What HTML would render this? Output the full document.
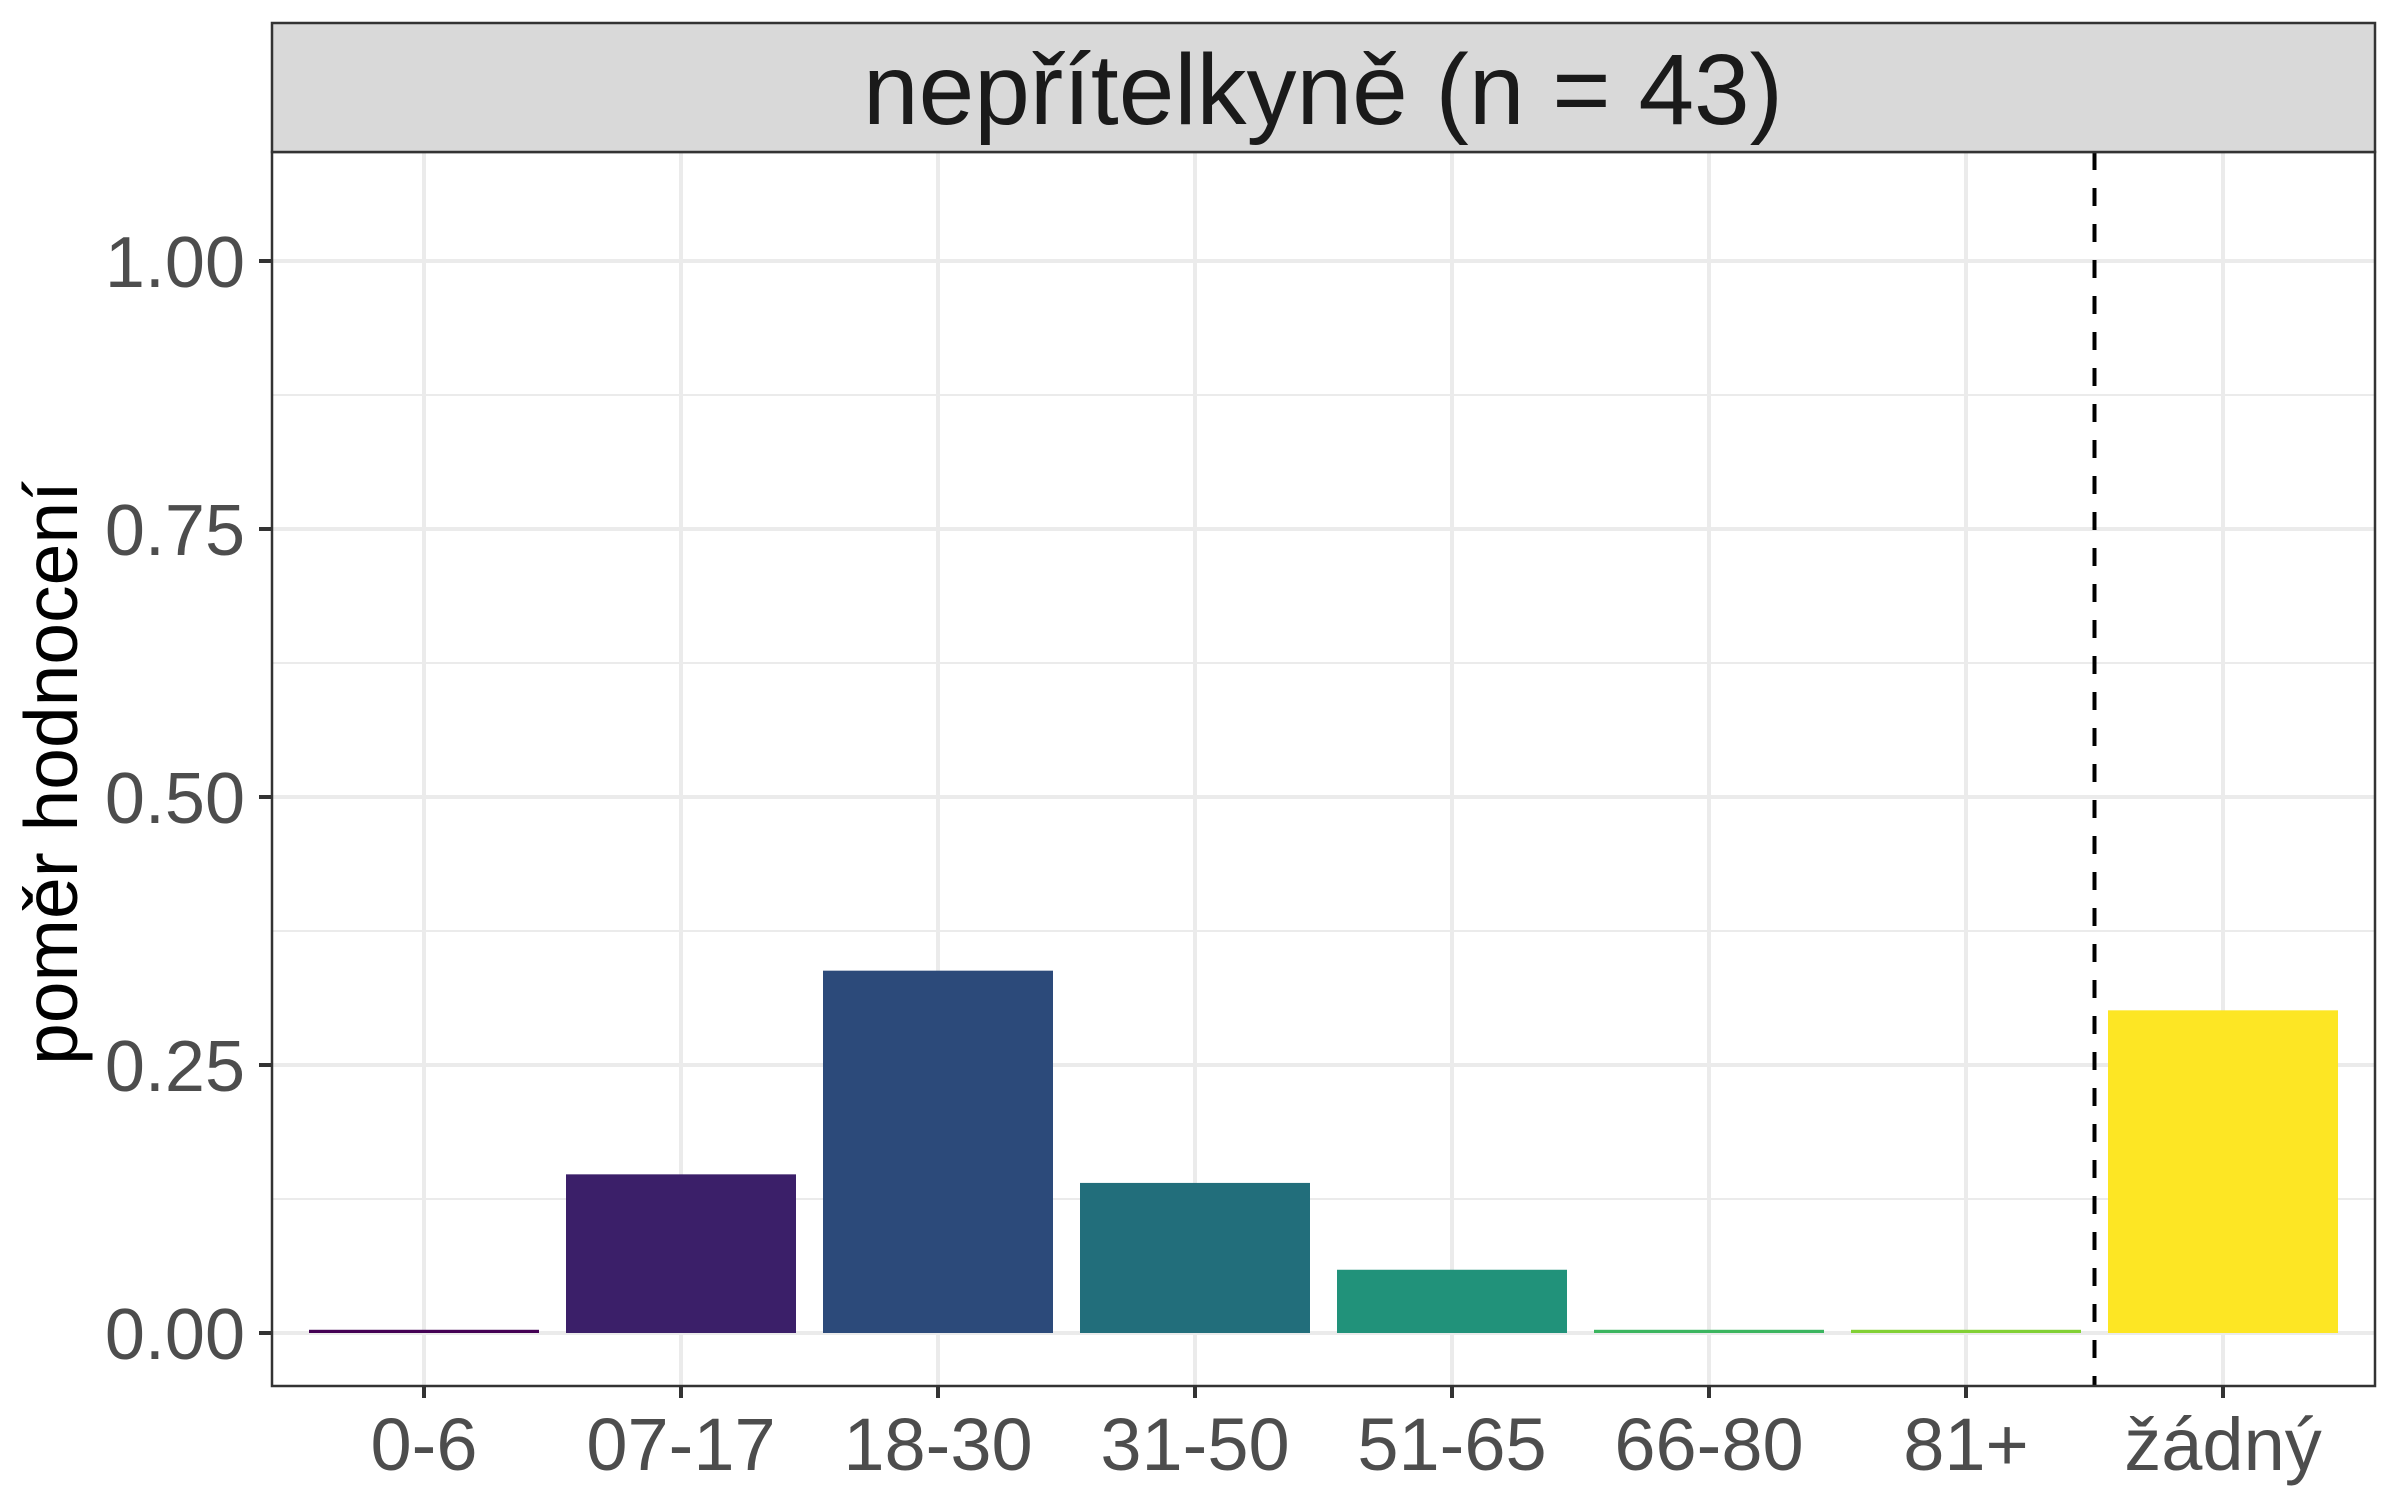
<!DOCTYPE html>
<html><head><meta charset="utf-8"><style>
html,body{margin:0;padding:0;background:#fff;}
svg{display:block;font-family:"Liberation Sans",sans-serif;}
</style></head><body>
<svg id="chart" width="2400" height="1500" viewBox="0 0 2400 1500" xmlns="http://www.w3.org/2000/svg">
<rect x="0" y="0" width="2400" height="1500" fill="#fff"/>
<g id="grid"></g>
<g id="bars"></g>
<g id="axes"></g>
<rect x="272" y="23" width="2103" height="129" fill="#d9d9d9" stroke="#333" stroke-width="2.5"/>
<text x="1323" y="124" font-size="100" fill="#1a1a1a" text-anchor="middle">nepřítelkyně (n = 43)</text>
<text transform="translate(77,773) rotate(-90)" font-size="75" fill="#000" text-anchor="middle">poměr hodnocení</text>
</svg>
<script>
const categories = ["0-6","07-17","18-30","31-50","51-65","66-80","81+","žádný"];
const values = [0.003,0.148,0.338,0.140,0.059,0.003,0.003,0.301];
const colors = ["#440154","#3b1f69","#2c4a7a","#226e7b","#21927a","#3bb55f","#82d035","#fde624"];
const yTicks = [0,0.25,0.5,0.75,1.0];
const yTickLabels = ["0.00","0.25","0.50","0.75","1.00"];
const yMinor = [0.125,0.375,0.625,0.875];
const dividerPos = 6.5;

const NS="http://www.w3.org/2000/svg";
const L=272,R=2375,T=152,B=1386;
const y0=1333, yUnit=1072;
const x0=424, xStep=257, barW=230;
const yS=v=>y0-v*yUnit;
const xS=i=>x0+i*xStep;
function mk(tag,attrs,parent){const e=document.createElementNS(NS,tag);for(const k in attrs)e.setAttribute(k,attrs[k]);parent.appendChild(e);return e;}
const grid=document.getElementById('grid'),bars=document.getElementById('bars'),axes=document.getElementById('axes');
mk('rect',{x:L,y:T,width:R-L,height:B-T,fill:'#fff'},grid);
yMinor.forEach(v=>{const l=mk('line',{x1:L,x2:R,y1:yS(v),y2:yS(v),stroke:'#ebebeb','stroke-width':2},grid);

});
yTicks.forEach(v=>{const l=mk('line',{x1:L,x2:R,y1:yS(v),y2:yS(v),stroke:'#ebebeb','stroke-width':4},grid);

});
categories.forEach((c,i)=>{const l=mk('line',{x1:xS(i),x2:xS(i),y1:T,y2:B,stroke:'#ebebeb','stroke-width':4},grid);

});
categories.forEach((c,i)=>{
 const h=values[i]*yUnit;
 const r=mk('rect',{x:xS(i)-barW/2,y:yS(values[i]),width:barW,height:h,fill:colors[i]},bars);
 
 
 const t=mk('line',{x1:xS(i),x2:xS(i),y1:B,y2:B+12,stroke:'#333','stroke-width':4},axes);
 
 
 const lb=mk('text',{x:xS(i),y:B+84,'font-size':74,fill:'#4d4d4d','text-anchor':'middle'},axes);
 lb.textContent=c;
 
 
});
const dl=mk('line',{x1:xS(dividerPos),x2:xS(dividerPos),y1:T,y2:B,stroke:'#000','stroke-width':4,'stroke-dasharray':'18,18'},axes);


yTicks.forEach((v,i)=>{
 const t=mk('line',{x1:259,x2:L,y1:yS(v),y2:yS(v),stroke:'#333','stroke-width':4},axes);
 
 
 const lb=mk('text',{x:245,y:yS(v)+26,'font-size':72,fill:'#4d4d4d','text-anchor':'end'},axes);
 lb.textContent=yTickLabels[i];
 
 
});
const bd=mk('rect',{x:L,y:T,width:R-L,height:B-T,fill:'none',stroke:'#333','stroke-width':2.5},axes);


</script>
</body></html>
